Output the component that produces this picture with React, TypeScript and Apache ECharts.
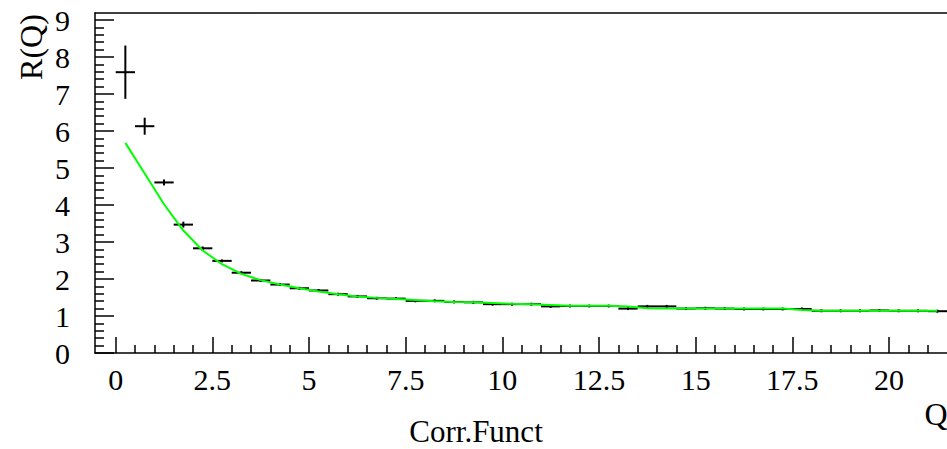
import React, { useEffect, useRef } from "react";
import * as echarts from "echarts";

// Histogram bins (width 0.5) — centres
const binCenters = [
  0.25, 0.75, 1.25, 1.75, 2.25, 2.75, 3.25, 3.75, 4.25, 4.75,
  5.25, 5.75, 6.25, 6.75, 7.25, 7.75, 8.25, 8.75, 9.25, 9.75,
  10.25, 10.75, 11.25, 11.75, 12.25, 12.75, 13.25, 13.75, 14.25, 14.75,
  15.25, 15.75, 16.25, 16.75, 17.25, 17.75, 18.25, 18.75, 19.25, 19.75,
  20.25, 20.75, 21.25,
];
const binHalfWidth = 0.25;

// Measured R(Q)
const dataValues = [
  7.59, 6.13, 4.61, 3.47, 2.83, 2.49, 2.17, 1.96, 1.85, 1.75,
  1.69, 1.59, 1.53, 1.48, 1.47, 1.41, 1.41, 1.38, 1.37, 1.32,
  1.32, 1.32, 1.26, 1.27, 1.27, 1.27, 1.20, 1.26, 1.26, 1.20,
  1.21, 1.20, 1.19, 1.19, 1.19, 1.19, 1.14, 1.14, 1.14, 1.15,
  1.14, 1.14, 1.13,
];
const dataErrors = [
  0.72, 0.23, 0.08, 0.08, 0.05, 0.04, 0.04, 0.04, 0.04, 0.04,
  0.04, 0.04, 0.04, 0.04, 0.04, 0.04, 0.04, 0.04, 0.04, 0.04,
  0.04, 0.04, 0.04, 0.04, 0.04, 0.04, 0.04, 0.04, 0.04, 0.04,
  0.04, 0.04, 0.04, 0.04, 0.04, 0.04, 0.04, 0.04, 0.04, 0.04,
  0.04, 0.04, 0.04,
];

// Fit curve (green), at bin centres
const fitValues = [
  5.68, 4.85, 4.02, 3.31, 2.77, 2.40, 2.14, 1.97, 1.85, 1.75,
  1.66, 1.59, 1.53, 1.49, 1.46, 1.43, 1.40, 1.38, 1.37, 1.35,
  1.33, 1.32, 1.30, 1.28, 1.28, 1.28, 1.26, 1.21, 1.20, 1.20,
  1.20, 1.20, 1.20, 1.20, 1.20, 1.16, 1.14, 1.14, 1.14, 1.14,
  1.14, 1.14, 1.14,
];

const xMajorTicks = [0, 2.5, 5, 7.5, 10, 12.5, 15, 17.5, 20];
const xMinorTicks = [
  0.5, 1, 1.5, 2, 3, 3.5, 4, 4.5, 5.5, 6, 6.5, 7, 8, 8.5, 9, 9.5,
  10.5, 11, 11.5, 12, 13, 13.5, 14, 14.5, 15.5, 16, 16.5, 17, 18, 18.5, 19, 19.5,
  20.5, 21,
];
const yMajorTicks = [0, 1, 2, 3, 4, 5, 6, 7, 8, 9];
const yMinorTicks = [
  0.2, 0.4, 0.6, 0.8, 1.2, 1.4, 1.6, 1.8, 2.2, 2.4, 2.6, 2.8,
  3.2, 3.4, 3.6, 3.8, 4.2, 4.4, 4.6, 4.8, 5.2, 5.4, 5.6, 5.8,
  6.2, 6.4, 6.6, 6.8, 7.2, 7.4, 7.6, 7.8, 8.2, 8.4, 8.6, 8.8,
];

const X_MIN = -0.535;
const X_MAX = 21.5;
const Y_MIN = 0;
const Y_MAX = 9.19;

const FONT = '"Liberation Serif", "Times New Roman", Times, "DejaVu Serif", serif';

export default function App() {
  const ref = useRef<HTMLDivElement>(null);

  useEffect(() => {
    if (!ref.current) return;
    const chart = echarts.init(ref.current, undefined, { renderer: "svg" });

    const gridBox = { left: 95, right: 0, top: 13, bottom: 96 };
    const lineStyle = { color: "#000", width: 1.5 };

    const errData = binCenters.map((x, i) => [x, dataValues[i], binHalfWidth, dataErrors[i]]);
    const fitData = binCenters.map((x, i) => [x, fitValues[i]]);

    chart.setOption({
      animation: false,
      backgroundColor: "#fff",
      textStyle: { fontFamily: FONT },
      grid: [
        { ...gridBox, containLabel: false },
        { ...gridBox, containLabel: false },
      ],
      xAxis: [
        {
          type: "value",
          gridIndex: 0,
          position: "bottom",
          min: X_MIN,
          max: X_MAX,
          axisLine: { show: true, onZero: false, lineStyle },
          axisTick: {
            show: true,
            inside: true,
            length: 16,
            customValues: xMajorTicks,
            lineStyle,
          },
          axisLabel: {
            show: true,
            customValues: xMajorTicks,
            color: "#000",
            fontFamily: FONT,
            fontSize: 30,
            margin: 11,
          },
          splitLine: { show: false },
        },
        {
          type: "value",
          gridIndex: 0,
          position: "top",
          min: X_MIN,
          max: X_MAX,
          axisLine: { show: true, onZero: false, lineStyle },
          axisTick: { show: false },
          axisLabel: { show: false },
          splitLine: { show: false },
        },
        {
          type: "value",
          gridIndex: 1,
          position: "bottom",
          min: X_MIN,
          max: X_MAX,
          axisLine: { show: false, onZero: false },
          axisTick: {
            show: true,
            inside: true,
            length: 8,
            customValues: xMinorTicks,
            lineStyle,
          },
          axisLabel: { show: false },
          splitLine: { show: false },
        },
      ],
      yAxis: [
        {
          type: "value",
          gridIndex: 0,
          position: "left",
          min: Y_MIN,
          max: Y_MAX,
          axisLine: { show: true, onZero: false, lineStyle },
          axisTick: {
            show: true,
            inside: true,
            length: 19,
            customValues: yMajorTicks,
            lineStyle,
          },
          axisLabel: {
            show: true,
            customValues: yMajorTicks,
            color: "#000",
            fontFamily: FONT,
            fontSize: 30,
            margin: 25,
            padding: [4, 0, 0, 0],
          },
          splitLine: { show: false },
        },
        {
          type: "value",
          gridIndex: 1,
          position: "left",
          min: Y_MIN,
          max: Y_MAX,
          axisLine: { show: false, onZero: false },
          axisTick: {
            show: true,
            inside: true,
            length: 9,
            customValues: yMinorTicks,
            lineStyle,
          },
          axisLabel: { show: false },
          splitLine: { show: false },
        },
      ],
      graphic: [
        {
          type: "text",
          x: 31,
          y: 47,
          rotation: Math.PI / 2,
          style: {
            text: "R(Q)",
            fontFamily: FONT,
            fontSize: 32,
            fill: "#000",
            align: "center",
            verticalAlign: "middle",
          },
        },
        {
          type: "text",
          x: 936,
          y: 414,
          style: {
            text: "Q",
            fontFamily: FONT,
            fontSize: 32,
            fill: "#000",
            align: "center",
            verticalAlign: "middle",
          },
        },
        {
          type: "text",
          x: 476,
          y: 431,
          style: {
            text: "Corr.Funct",
            fontFamily: FONT,
            fontSize: 31,
            fill: "#000",
            align: "center",
            verticalAlign: "middle",
          },
        },
      ],
      series: [
        {
          type: "custom",
          xAxisIndex: 0,
          yAxisIndex: 0,
          encode: { x: 0, y: 1 },
          data: errData,
          renderItem: (params: any, api: any) => {
            const x = api.value(0);
            const y = api.value(1);
            const xe = api.value(2);
            const ye = api.value(3);
            const l = api.coord([x - xe, y]);
            const r = api.coord([x + xe, y]);
            const t = api.coord([x, y + ye]);
            const b = api.coord([x, y - ye]);
            const style = { stroke: "#000", lineWidth: 2 };
            return {
              type: "group",
              children: [
                { type: "line", shape: { x1: l[0], y1: l[1], x2: r[0], y2: r[1] }, style },
                { type: "line", shape: { x1: t[0], y1: t[1], x2: b[0], y2: b[1] }, style },
              ],
            };
          },
          z: 2,
        },
        {
          type: "line",
          xAxisIndex: 0,
          yAxisIndex: 0,
          data: fitData,
          showSymbol: false,
          symbol: "none",
          lineStyle: { color: "#00ff00", width: 2 },
          z: 3,
        },
      ],
    });

    return () => chart.dispose();
  }, []);

  return (
    <div
      ref={ref}
      style={{ position: "fixed", left: 0, top: 0, width: 947, height: 449, background: "#fff" }}
    />
  );
}
